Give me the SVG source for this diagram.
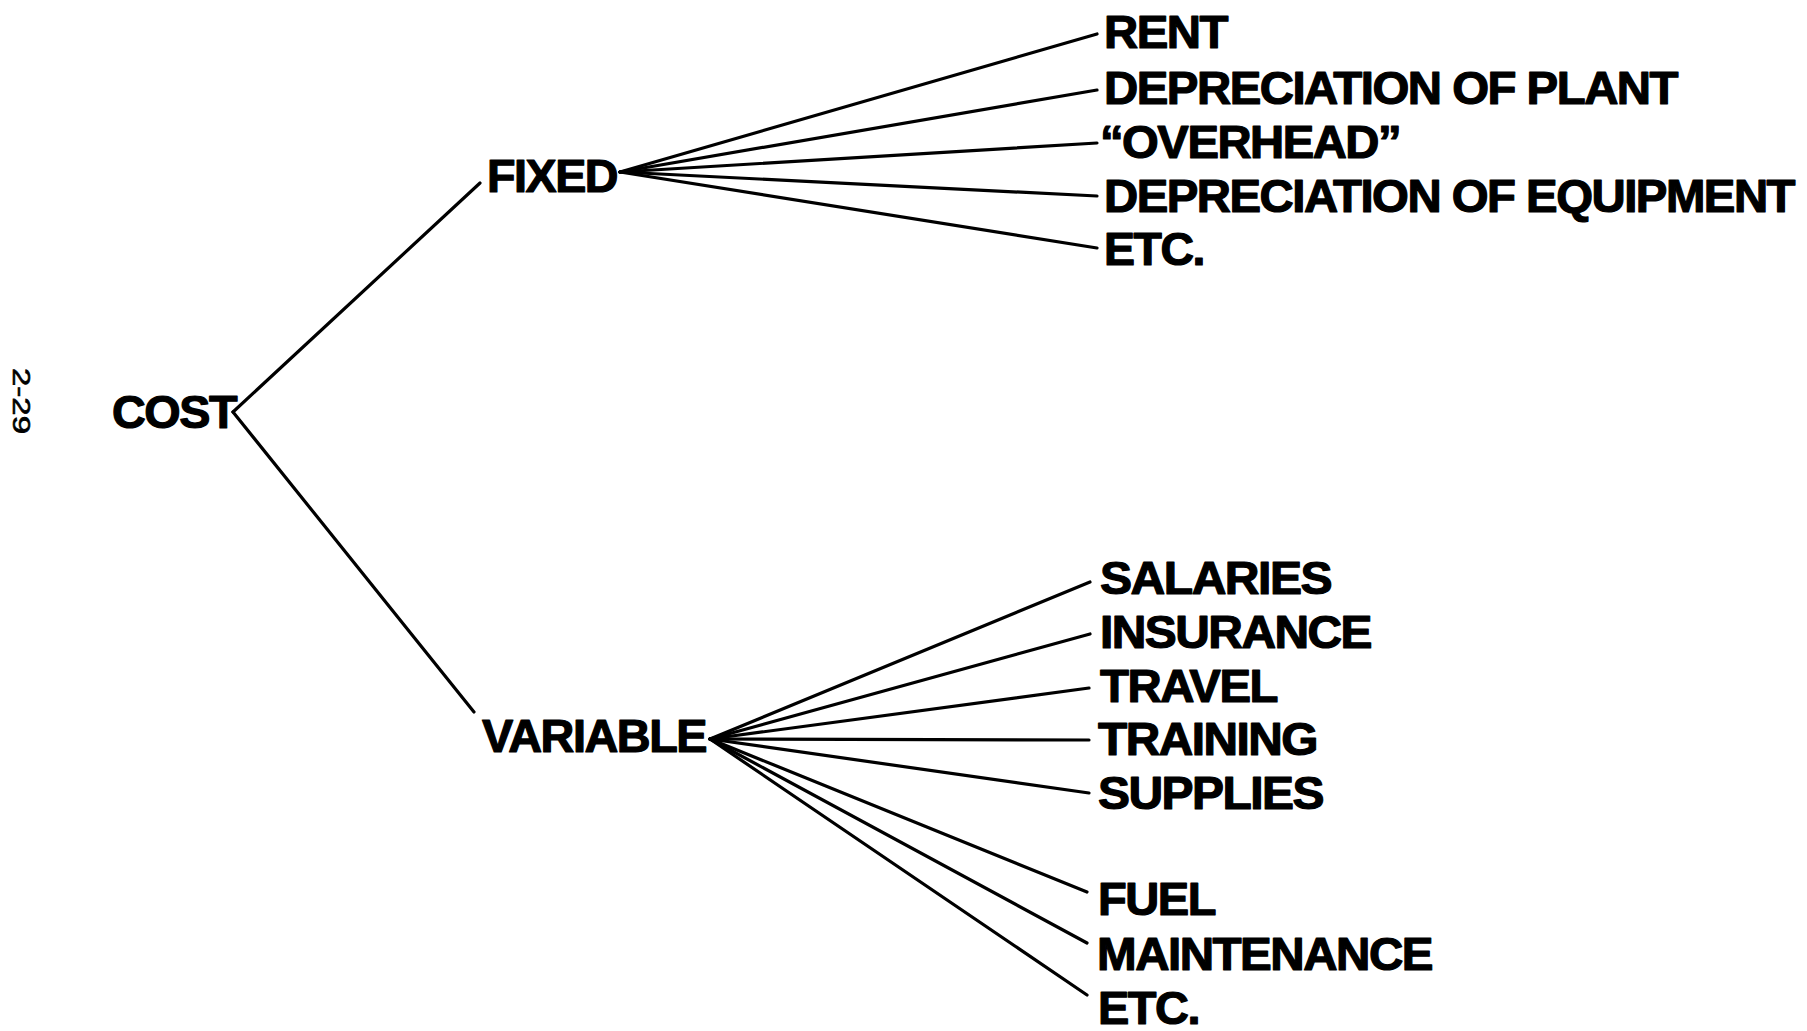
<svg xmlns="http://www.w3.org/2000/svg" width="1807" height="1031" viewBox="0 0 1807 1031">
  <style>
    .lbl { font-family: "Liberation Sans", Arial, Helvetica, sans-serif; font-weight: bold; font-size: 47px; letter-spacing: -1.5px; fill: #000; stroke: #000; stroke-width: 1.2; stroke-linejoin: round; }
    .pg { font-family: "Liberation Sans", Arial, sans-serif; font-size: 23px; fill: #000; stroke: #000; stroke-width: 0.6; }
    .edge { stroke: #000; stroke-width: 3.2; fill: none; stroke-linecap: round; }
  </style>
  <rect width="1807" height="1031" fill="#fff"/>

  <!-- page number, printed sideways -->
  <text class="pg" transform="translate(13,368) rotate(90)" textLength="66" lengthAdjust="spacingAndGlyphs">2-29</text>

  <!-- connectors -->
  <g id="connectors" class="edge">
    <!-- root split -->
    <line x1="233" y1="412" x2="480" y2="183"/>
    <line x1="233" y1="412" x2="474" y2="712"/>
    <!-- fixed fan -->
    <line x1="620" y1="172" x2="1097" y2="34"/>
    <line x1="620" y1="172" x2="1097" y2="90"/>
    <line x1="620" y1="172" x2="1097" y2="143"/>
    <line x1="620" y1="172" x2="1097" y2="196"/>
    <line x1="620" y1="172" x2="1097" y2="248"/>
    <!-- variable fan -->
    <line x1="710" y1="739" x2="1090" y2="582"/>
    <line x1="710" y1="739" x2="1090" y2="634"/>
    <line x1="710" y1="739" x2="1089" y2="688"/>
    <line x1="710" y1="739" x2="1089" y2="740"/>
    <line x1="710" y1="739" x2="1089" y2="793"/>
    <line x1="710" y1="739" x2="1087" y2="892"/>
    <line x1="710" y1="739" x2="1087" y2="943"/>
    <line x1="710" y1="739" x2="1087" y2="995"/>
  </g>

  <g id="node-cost"><text class="lbl" x="112" y="428" textLength="124" lengthAdjust="spacingAndGlyphs">COST</text></g>

  <g id="node-fixed"><text class="lbl" x="487" y="192" textLength="130" lengthAdjust="spacingAndGlyphs">FIXED</text></g>
  <g id="node-rent"><text class="lbl" x="1104" y="48" textLength="123" lengthAdjust="spacingAndGlyphs">RENT</text></g>
  <g id="node-dep-plant"><text class="lbl" x="1104" y="104" textLength="573" lengthAdjust="spacingAndGlyphs">DEPRECIATION OF PLANT</text></g>
  <g id="node-overhead"><text class="lbl" x="1100" y="158" textLength="300" lengthAdjust="spacingAndGlyphs">“OVERHEAD”</text></g>
  <g id="node-dep-equipment"><text class="lbl" x="1104" y="212" textLength="690" lengthAdjust="spacingAndGlyphs">DEPRECIATION OF EQUIPMENT</text></g>
  <g id="node-etc-fixed"><text class="lbl" x="1104" y="265" textLength="100" lengthAdjust="spacingAndGlyphs">ETC.</text></g>

  <g id="node-variable"><text class="lbl" x="482" y="752" textLength="224" lengthAdjust="spacingAndGlyphs">VARIABLE</text></g>
  <g id="node-salaries"><text class="lbl" x="1100" y="594" textLength="231" lengthAdjust="spacingAndGlyphs">SALARIES</text></g>
  <g id="node-insurance"><text class="lbl" x="1100" y="648" textLength="271" lengthAdjust="spacingAndGlyphs">INSURANCE</text></g>
  <g id="node-travel"><text class="lbl" x="1100" y="702" textLength="177" lengthAdjust="spacingAndGlyphs">TRAVEL</text></g>
  <g id="node-training"><text class="lbl" x="1098" y="755" textLength="219" lengthAdjust="spacingAndGlyphs">TRAINING</text></g>
  <g id="node-supplies"><text class="lbl" x="1098" y="809" textLength="225" lengthAdjust="spacingAndGlyphs">SUPPLIES</text></g>
  <g id="node-fuel"><text class="lbl" x="1098" y="915" textLength="117" lengthAdjust="spacingAndGlyphs">FUEL</text></g>
  <g id="node-maintenance"><text class="lbl" x="1097" y="970" textLength="335" lengthAdjust="spacingAndGlyphs">MAINTENANCE</text></g>
  <g id="node-etc-variable"><text class="lbl" x="1098" y="1024" textLength="101" lengthAdjust="spacingAndGlyphs">ETC.</text></g>
</svg>
